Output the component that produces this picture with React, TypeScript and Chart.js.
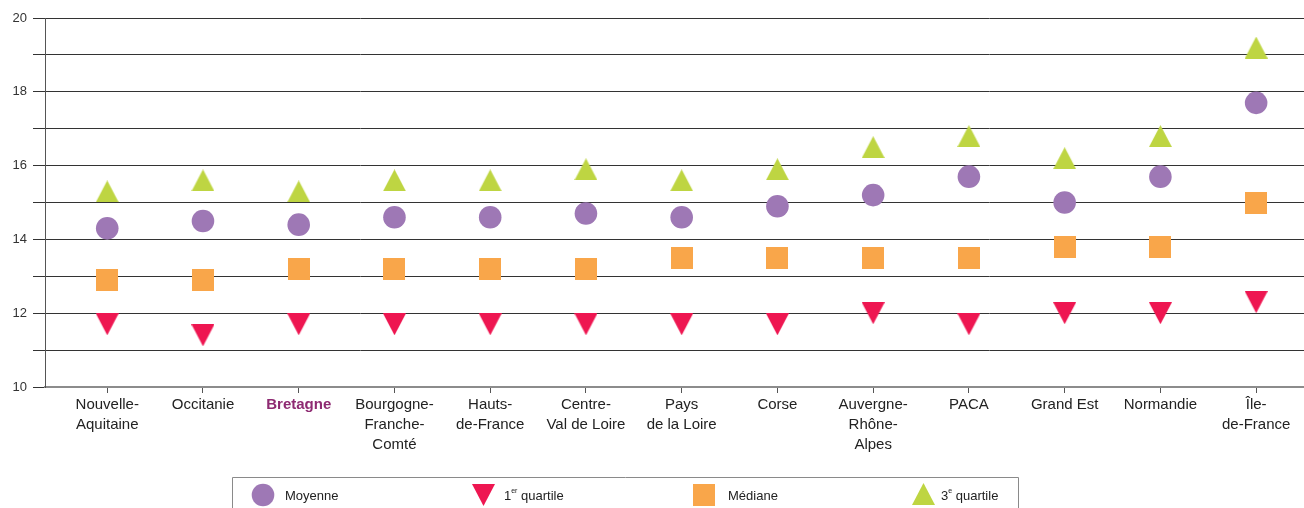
import { useEffect, useRef } from 'react';
import { Chart, registerables } from 'chart.js';

Chart.register(...registerables);

const categoryLabels: string[][] = [
  ['Nouvelle-', 'Aquitaine'],
  ['Occitanie'],
  ['Bretagne'],
  ['Bourgogne-', 'Franche-', 'Comté'],
  ['Hauts-', 'de-France'],
  ['Centre-', 'Val de Loire'],
  ['Pays', 'de la Loire'],
  ['Corse'],
  ['Auvergne-', 'Rhône-', 'Alpes'],
  ['PACA'],
  ['Grand Est'],
  ['Normandie'],
  ['Île-', 'de-France'],
];

const moyenne = [14.3, 14.5, 14.4, 14.6, 14.6, 14.7, 14.6, 14.9, 15.2, 15.7, 15.0, 15.7, 17.7];
const premierQuartile = [11.7, 11.4, 11.7, 11.7, 11.7, 11.7, 11.7, 11.7, 12.0, 11.7, 12.0, 12.0, 12.3];
const mediane = [12.9, 12.9, 13.2, 13.2, 13.2, 13.2, 13.5, 13.5, 13.5, 13.5, 13.8, 13.8, 15.0];
const troisiemeQuartile = [15.3, 15.6, 15.3, 15.6, 15.6, 15.9, 15.6, 15.9, 16.5, 16.8, 16.2, 16.8, 19.2];

const yTickLabels = ['10', '12', '14', '16', '18', '20'];

const COLORS = {
  moyenne: '#9e78b5',
  q1: '#ee1651',
  mediane: '#f9a64a',
  q3: '#bed542',
};

const FONT = '"Liberation Sans", Arial, sans-serif';
const highlighted = 'Bretagne';

function makeTriangle(color: string, up: boolean, w = 23, h = 22) {
  const c = document.createElement('canvas');
  c.width = w;
  c.height = h;
  const g = c.getContext('2d')!;
  g.fillStyle = color;
  g.beginPath();
  if (up) {
    g.moveTo(w / 2, 0);
    g.lineTo(w, h);
    g.lineTo(0, h);
  } else {
    g.moveTo(0, 0);
    g.lineTo(w, 0);
    g.lineTo(w / 2, h);
  }
  g.closePath();
  g.fill();
  return c;
}

function makeSquare(color: string, s = 22) {
  const c = document.createElement('canvas');
  c.width = s;
  c.height = s;
  const g = c.getContext('2d')!;
  g.fillStyle = color;
  g.fillRect(0, 0, s, s);
  return c;
}

const legendPlugin = {
  id: 'customLegend',
  afterDraw(chart: any) {
    const ctx = chart.ctx as CanvasRenderingContext2D;
    ctx.save();
    ctx.strokeStyle = '#8a8a8a';
    ctx.lineWidth = 1;
    ctx.beginPath();
    ctx.moveTo(232.5, 512);
    ctx.lineTo(232.5, 477.5);
    ctx.lineTo(1018.5, 477.5);
    ctx.lineTo(1018.5, 512);
    ctx.stroke();

    const cy = 495;
    ctx.fillStyle = COLORS.moyenne;
    ctx.beginPath();
    ctx.arc(263, cy, 11.3, 0, Math.PI * 2);
    ctx.fill();

    ctx.fillStyle = COLORS.q1;
    ctx.beginPath();
    ctx.moveTo(472, 484);
    ctx.lineTo(495, 484);
    ctx.lineTo(483.5, 506);
    ctx.closePath();
    ctx.fill();

    ctx.fillStyle = COLORS.mediane;
    ctx.fillRect(693, 484, 22, 22);

    ctx.fillStyle = COLORS.q3;
    ctx.beginPath();
    ctx.moveTo(923.5, 483);
    ctx.lineTo(935, 505);
    ctx.lineTo(912, 505);
    ctx.closePath();
    ctx.fill();

    ctx.fillStyle = '#222';
    ctx.textBaseline = 'middle';
    ctx.textAlign = 'left';
    ctx.font = `13px ${FONT}`;
    ctx.fillText('Moyenne', 285, cy + 1);

    const sup = (x: number, base: string, s: string, rest: string) => {
      ctx.font = `13px ${FONT}`;
      ctx.fillText(base, x, cy + 1);
      let xx = x + ctx.measureText(base).width;
      ctx.font = `7px ${FONT}`;
      ctx.fillText(s, xx, cy - 4);
      xx += ctx.measureText(s).width;
      ctx.font = `13px ${FONT}`;
      ctx.fillText(rest, xx, cy + 1);
    };
    sup(504, '1', 'er', ' quartile');
    ctx.font = `13px ${FONT}`;
    ctx.fillText('Médiane', 728, cy + 1);
    sup(941, '3', 'e', ' quartile');
    ctx.restore();
  },
};

export default function App() {
  const ref = useRef<HTMLCanvasElement | null>(null);

  useEffect(() => {
    if (!ref.current) return;
    const toPts = (arr: number[]) => arr.map((v, i) => ({ x: i, y: v }));
    const chart = new Chart(ref.current, {
      type: 'scatter',
      data: {
        datasets: [
          {
            label: 'Moyenne',
            data: toPts(moyenne),
            pointStyle: 'circle',
            pointRadius: 11.3,
            backgroundColor: COLORS.moyenne,
            borderWidth: 0,
          },
          {
            label: '1er quartile',
            data: toPts(premierQuartile),
            pointStyle: makeTriangle(COLORS.q1, false) as any,
            backgroundColor: COLORS.q1,
          },
          {
            label: 'Médiane',
            data: toPts(mediane),
            pointStyle: makeSquare(COLORS.mediane) as any,
            backgroundColor: COLORS.mediane,
          },
          {
            label: '3e quartile',
            data: toPts(troisiemeQuartile),
            pointStyle: makeTriangle(COLORS.q3, true) as any,
            backgroundColor: COLORS.q3,
          },
        ],
      },
      options: {
        animation: false,
        responsive: false,
        events: [],
        layout: { autoPadding: false, padding: { top: 18, right: 0, left: 0, bottom: 0 } },
        plugins: {
          legend: { display: false },
          tooltip: { enabled: false },
        },
        scales: {
          x: {
            type: 'linear',
            min: -0.65,
            max: 12.5,
            afterBuildTicks: (scale: any) => {
              scale.ticks = categoryLabels.map((_, i) => ({ value: i }));
            },
            afterFit: (scale: any) => {
              scale.height = 121;
              scale.paddingLeft = 0;
              scale.paddingRight = 0;
            },
            grid: {
              display: true,
              drawOnChartArea: false,
              drawTicks: true,
              tickLength: 6,
              color: '#555',
            },
            border: { display: true, color: '#8c8c8c', width: 2 },
            ticks: {
              autoSkip: false,
              maxRotation: 0,
              minRotation: 0,
              padding: 2,
              color: (c: any) => (categoryLabels[c.index]?.[0] === highlighted ? '#8e2a72' : '#222'),
              font: (c: any) => ({
                family: FONT,
                size: 15,
                lineHeight: 1.33,
                weight: categoryLabels[c.index]?.[0] === highlighted ? 'bold' : 'normal',
              }),
              callback: (value: any) => categoryLabels[Math.round(Number(value))] ?? '',
            },
          },
          y: {
            type: 'linear',
            min: 10,
            max: 20,
            afterFit: (scale: any) => {
              scale.width = 45;
            },
            grid: {
              color: '#333',
              lineWidth: 1,
              drawTicks: true,
              tickLength: 12,
            },
            border: { display: true, color: '#555', width: 1 },
            ticks: {
              stepSize: 1,
              padding: 6,
              color: '#333',
              font: { family: FONT, size: 13 },
              callback: (value: any) => {
                const s = String(value);
                return yTickLabels.includes(s) ? s : '';
              },
            },
          },
        },
      },
      plugins: [legendPlugin],
    });
    return () => chart.destroy();
  }, []);

  return (
    <div style={{ position: 'absolute', left: 0, top: 0, width: 1304, height: 508, background: '#fff' }}>
      <canvas ref={ref} width={1304} height={508} />
    </div>
  );
}
